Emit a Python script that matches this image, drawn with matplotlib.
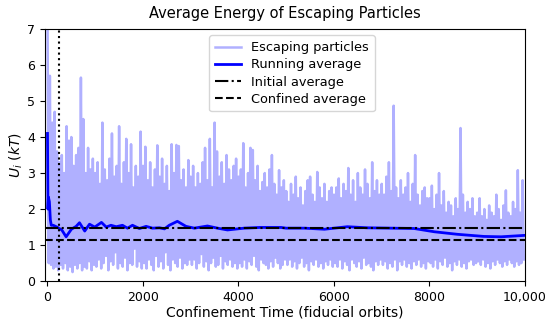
import numpy as np
import matplotlib
matplotlib.use("Agg")
import matplotlib.pyplot as plt

# escaping particle energies, one high and one low value per 50-orbit bin
# (each row covers 1000 orbits)
peak_values = [
    7.6, 5.7, 4.4, 4.7, 3.6, 3.3, 3.5, 3.0, 4.3, 3.9, 4.0, 3.2, 3.5, 3.7, 5.65, 4.5, 3.0, 3.7, 3.1, 3.4,
    3.0, 3.3, 2.7, 4.4, 3.1, 2.8, 3.4, 4.1, 2.9, 3.2, 4.3, 2.7, 3.3, 3.95, 3.0, 3.8, 2.6, 3.2, 2.9, 4.15,
    3.2, 3.73, 2.8, 3.3, 2.6, 3.1, 3.77, 2.9, 3.4, 2.7, 3.2, 2.5, 3.8, 3.0, 3.78, 3.75, 2.8, 3.1, 2.6, 3.36,
    2.9, 3.2, 2.6, 3.0, 2.7, 3.3, 3.7, 2.8, 3.95, 2.6, 4.4, 3.6, 2.9, 3.3, 2.7, 3.5, 3.1, 2.8, 3.2, 3.4,
    2.9, 3.1, 3.83, 2.6, 3.0, 3.7, 3.64, 2.8, 3.2, 2.5, 2.75, 3.0, 2.6, 3.1, 3.5, 2.7, 2.4, 3.08, 2.6, 2.8,
    2.5, 2.2, 2.7, 2.4, 2.9, 2.3, 2.6, 2.1, 2.5, 2.8, 2.9, 2.4, 2.2, 3.03, 2.6, 2.3, 2.7, 2.2, 2.5, 2.6,
    2.4, 2.6, 2.85, 2.3, 2.7, 2.5, 3.14, 2.4, 2.8, 2.2, 3.0, 2.6, 2.4, 3.1, 2.7, 2.3, 3.3, 2.5, 2.8, 2.4,
    2.7, 2.4, 2.9, 3.3, 2.5, 4.87, 2.6, 2.3, 2.8, 2.4, 2.6, 3.0, 2.2, 2.7, 3.5, 2.4, 2.1, 2.5, 2.6, 2.3,
    2.3, 2.65, 2.0, 2.4, 3.0, 2.1, 2.5, 1.9, 2.2, 2.1, 1.8, 2.3, 2.0, 4.25, 2.4, 1.9, 2.2, 2.0, 2.3, 1.8,
    1.9, 2.3, 1.8, 2.0, 1.7, 2.1, 1.9, 1.8, 2.4, 2.0, 1.7, 2.1, 2.52, 1.9, 1.8, 2.2, 2.0, 3.08, 1.9, 2.8,
]
trough_values = [
    0.5, 0.45, 0.35, 0.4, 0.3, 0.45, 0.35, 0.5, 0.3, 0.4, 0.25, 0.45, 0.35, 0.5, 0.3, 0.4, 0.35, 0.55, 0.3, 0.45,
    0.4, 0.6, 0.35, 0.5, 0.7, 0.3, 0.55, 0.45, 0.8, 0.35, 0.5, 0.4, 0.65, 0.3, 0.5, 0.45, 0.9, 0.4, 0.55, 0.35,
    0.5, 0.35, 0.6, 0.45, 0.3, 0.7, 0.4, 0.55, 0.35, 0.8, 0.45, 0.3, 0.6, 0.5, 0.4, 0.65, 0.35, 0.5, 0.45, 0.6,
    0.45, 0.6, 0.35, 0.5, 0.75, 0.4, 0.55, 0.3, 0.5, 0.65, 0.4, 0.45, 0.7, 0.35, 0.55, 0.45, 0.6, 0.4, 0.5, 0.35,
    0.5, 0.4, 0.6, 0.35, 0.55, 0.45, 0.7, 0.4, 0.3, 0.6, 0.5, 0.45, 0.35, 0.55, 0.4, 0.65, 0.5, 0.35, 0.45, 0.6,
    0.45, 0.6, 0.4, 0.55, 0.35, 0.5, 0.65, 0.4, 0.5, 0.3, 0.55, 0.45, 0.6, 0.4, 0.5, 0.35, 0.55, 0.45, 0.6, 0.4,
    0.5, 0.4, 0.6, 0.35, 0.55, 0.45, 0.3, 0.6, 0.5, 0.4, 0.55, 0.35, 0.65, 0.45, 0.5, 0.4, 0.3, 0.55, 0.45, 0.6,
    0.45, 0.55, 0.35, 0.5, 0.4, 0.6, 0.3, 0.55, 0.45, 0.6, 0.4, 0.5, 0.35, 0.55, 0.45, 0.6, 0.4, 0.5, 0.35, 0.55,
    0.5, 0.4, 0.6, 0.35, 0.55, 0.45, 0.65, 0.4, 0.5, 0.3, 0.55, 0.45, 0.6, 0.4, 0.5, 0.35, 0.55, 0.6, 0.45, 0.5,
    0.55, 0.45, 0.6, 0.4, 0.5, 0.35, 0.55, 0.45, 0.6, 0.5, 0.4, 0.55, 0.45, 0.6, 0.5, 0.4, 0.55, 0.45, 0.5, 0.6,
]

# running average
avg_times = [0, 10, 20, 40, 60, 80, 120, 200, 300, 390, 500, 600, 670, 780, 880, 990,
             1130, 1230, 1330, 1440, 1570, 1675, 1780, 1925, 2065, 2200, 2345, 2450, 2550,
             2720, 2900, 3075, 3350, 3560, 3770, 4120, 4450, 4890, 5000, 5380, 5800, 6280,
             6700, 7200, 7680, 8100, 8580, 9140, 9500, 10000]
avg_values = [4.1, 2.0, 2.33, 2.2, 1.7, 1.55, 1.55, 1.5, 1.42, 1.23, 1.44, 1.52, 1.62, 1.39, 1.58, 1.5,
              1.63, 1.5, 1.55, 1.51, 1.55, 1.47, 1.55, 1.46, 1.52, 1.47, 1.48, 1.45, 1.55,
              1.66, 1.52, 1.47, 1.53, 1.47, 1.42, 1.47, 1.49, 1.49, 1.47, 1.47, 1.44, 1.51,
              1.48, 1.47, 1.46, 1.37, 1.3, 1.24, 1.23, 1.27]

initial_average = 1.48
confined_average = 1.14
cutoff_time = 250

energies = np.empty(2 * len(peak_values))
energies[0::2] = peak_values
energies[1::2] = trough_values
times = np.arange(len(energies)) * 25.0

fig = plt.figure(figsize=(5.5, 3.28), dpi=100)
ax = fig.add_axes([0.082, 0.143, 0.8725, 0.7686])

ax.plot(times, energies, color="blue", alpha=0.31, lw=1.8, label="Escaping particles")
ax.plot(avg_times, avg_values, color="blue", lw=2, label="Running average")
ax.axhline(initial_average, color="black", ls="-.", lw=1.5, label="Initial average")
ax.axhline(confined_average, color="black", ls="--", lw=1.5, label="Confined average")
ax.axvline(cutoff_time, color="black", ls=":", lw=1.5)

ax.set_xlim(-50, 10000)
ax.set_ylim(0, 7)
ax.set_xticks([0, 2000, 4000, 6000, 8000, 10000])
ax.set_xticklabels(["0", "2000", "4000", "6000", "8000", "10,000"])
ax.tick_params(labelsize=9)
ax.set_xlabel("Confinement Time (fiducial orbits)", fontsize=10, labelpad=1)
ax.set_ylabel(r"$U_i$ $(kT)$", fontsize=10, labelpad=2)
ax.set_title("Average Energy of Escaping Particles", fontsize=10.5, pad=8)
ax.legend(loc="upper center", fontsize=9.3, borderpad=0.45, labelspacing=0.32,
          bbox_to_anchor=(0.515, 1.0))

fig.savefig("out.png", dpi=100)
